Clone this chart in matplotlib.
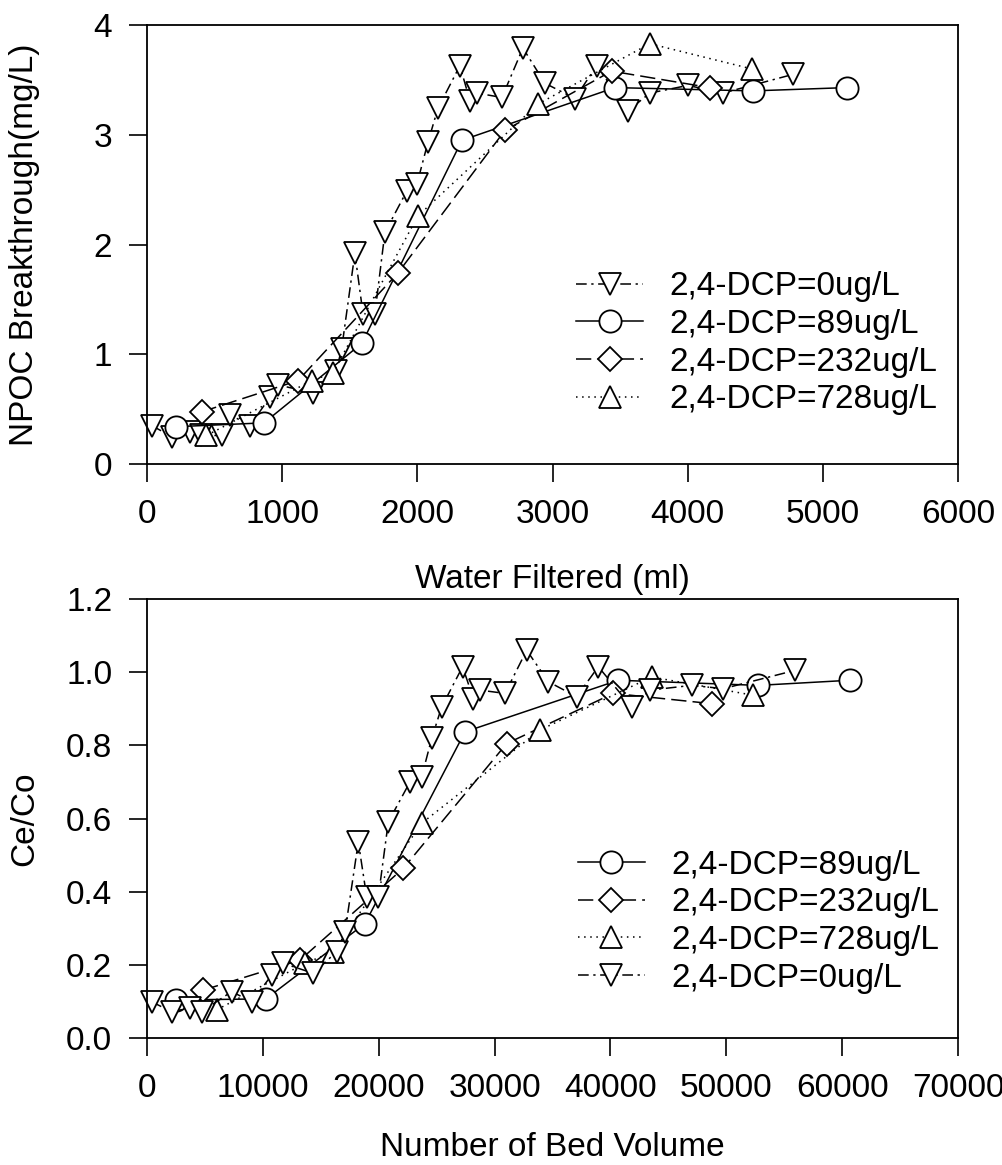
import matplotlib
matplotlib.use('Agg')
import matplotlib.pyplot as plt

plt.rcParams['font.family'] = ['Liberation Sans', 'DejaVu Sans']
plt.rcParams['font.size'] = 24

# ---- top panel : NPOC vs water filtered (ml)
ml_0 = [35, 183, 320, 400, 552, 614, 762, 910, 969, 1228, 1400, 1440, 1538, 1598, 1686,
        1760, 1923, 1997, 2078, 2152, 2315, 2389, 2441, 2626, 2781, 2944, 3166, 3326,
        3560, 3720, 4002, 4260, 4778]
npoc_0 = [0.35, 0.25, 0.29, 0.26, 0.26, 0.45, 0.35, 0.61, 0.72, 0.65, 0.85, 1.05, 1.92, 1.37, 1.37,
          2.11, 2.49, 2.55, 2.93, 3.24, 3.63, 3.31, 3.38, 3.34, 3.79, 3.47, 3.33, 3.63,
          3.22, 3.38, 3.45, 3.38, 3.55]
ml_89 = [215, 866, 1590, 2330, 3462, 4482, 5177]
npoc_89 = [0.34, 0.375, 1.10, 2.95, 3.43, 3.40, 3.43]
ml_232 = [404, 1117, 1856, 2648, 3437, 4164]
npoc_232 = [0.475, 0.76, 1.74, 3.04, 3.58, 3.43]
ml_728 = [440, 1218, 1376, 2004, 2892, 3720, 4475]
npoc_728 = [0.26, 0.76, 0.83, 2.26, 3.28, 3.83, 3.60]

# ---- bottom panel : Ce/Co vs bed volumes
bv_0 = [405, 2128, 3711, 4718, 7308, 9034, 10760, 11768, 14355, 16370, 17090, 18240, 18960,
        19967, 20830, 22700, 23708, 24571, 25434, 27240, 28165, 28740, 30900, 32772, 34636,
        37085, 38953, 41830, 43410, 47010, 49742, 55930]
ceco_0 = [0.099, 0.072, 0.082, 0.072, 0.127, 0.099, 0.172, 0.204, 0.177, 0.236, 0.29, 0.536, 0.386,
          0.386, 0.591, 0.70, 0.714, 0.819, 0.905, 1.015, 0.928, 0.951, 0.942, 1.06, 0.974,
          0.933, 1.015, 0.905, 0.951, 0.964, 0.955, 1.005]
bv_89 = [2503, 10271, 18816, 27447, 40680, 52764, 60676]
ceco_89 = [0.104, 0.107, 0.313, 0.837, 0.978, 0.964, 0.978]
bv_232 = [4862, 13205, 22126, 31046, 40248, 48740]
ceco_232 = [0.131, 0.213, 0.464, 0.805, 0.942, 0.914]
bv_728 = [6013, 13637, 16050, 23708, 33920, 43555, 52332]
ceco_728 = [0.077, 0.204, 0.236, 0.587, 0.842, 0.987, 0.937]

lab_0 = '2,4-DCP=0ug/L'
lab_89 = '2,4-DCP=89ug/L'
lab_232 = '2,4-DCP=232ug/L'
lab_728 = '2,4-DCP=728ug/L'

# marker, linestyle, markersize for each dose
sty_0 = ('v', (0, (7, 3, 1.5, 3)), 16)
sty_89 = ('o', '-', 16)
sty_232 = ('D', (0, (10, 4)), 12.5)
sty_728 = ('^', (0, (1, 3)), 16)


def draw(ax, x, y, sty, label):
    m, ls, ms = sty
    ax.plot(x, y, color='black', lw=1.1, ls=ls, marker=m, ms=ms, mfc='white',
            mec='black', mew=1.3, label=label, clip_on=False)


def style_axes(ax):
    for s in ax.spines.values():
        s.set_linewidth(1.3)
    ax.tick_params(direction='out', length=13, width=1.2, pad=12, labelsize=24)


fig = plt.figure(figsize=(10.02, 11.65), dpi=100)

ax1 = fig.add_axes([0.1467, 0.6017, 0.8094, 0.3768])
draw(ax1, ml_0, npoc_0, sty_0, lab_0)
draw(ax1, ml_89, npoc_89, sty_89, lab_89)
draw(ax1, ml_232, npoc_232, sty_232, lab_232)
draw(ax1, ml_728, npoc_728, sty_728, lab_728)
ax1.set_xlim(0, 6000)
ax1.set_ylim(0, 4)
ax1.set_xticks([0, 1000, 2000, 3000, 4000, 5000, 6000])
ax1.set_yticks([0, 1, 2, 3, 4])
style_axes(ax1)
ax1.set_xlabel('Water Filtered (ml)')
ax1.xaxis.set_label_coords(0.5, -0.228)
ax1.set_ylabel('NPOC Breakthrough(mg/L)')
ax1.yaxis.set_label_coords(-0.132, 0.5)
ax1.legend(loc='center left', bbox_to_anchor=(0.509, 0.275), frameon=False,
           borderpad=0, labelspacing=0.2, handlelength=2.0, handletextpad=0.8,
           fontsize=24)

ax2 = fig.add_axes([0.1467, 0.1090, 0.8094, 0.3768])
draw(ax2, bv_89, ceco_89, sty_89, lab_89)
draw(ax2, bv_232, ceco_232, sty_232, lab_232)
draw(ax2, bv_728, ceco_728, sty_728, lab_728)
draw(ax2, bv_0, ceco_0, sty_0, lab_0)
ax2.set_xlim(0, 70000)
ax2.set_ylim(0, 1.2)
ax2.set_xticks([0, 10000, 20000, 30000, 40000, 50000, 60000, 70000])
yt = [0.0, 0.2, 0.4, 0.6, 0.8, 1.0, 1.2]
ax2.set_yticks(yt)
ax2.set_yticklabels(['%.1f' % v for v in yt])
style_axes(ax2)
ax2.set_xlabel('Number of Bed Volume')
ax2.xaxis.set_label_coords(0.5, -0.214)
ax2.set_ylabel('Ce/Co')
ax2.yaxis.set_label_coords(-0.132, 0.5)
ax2.legend(loc='center left', bbox_to_anchor=(0.511, 0.265), frameon=False,
           borderpad=0, labelspacing=0.2, handlelength=2.0, handletextpad=0.8,
           fontsize=24)

plt.savefig('out.png', dpi=100)
